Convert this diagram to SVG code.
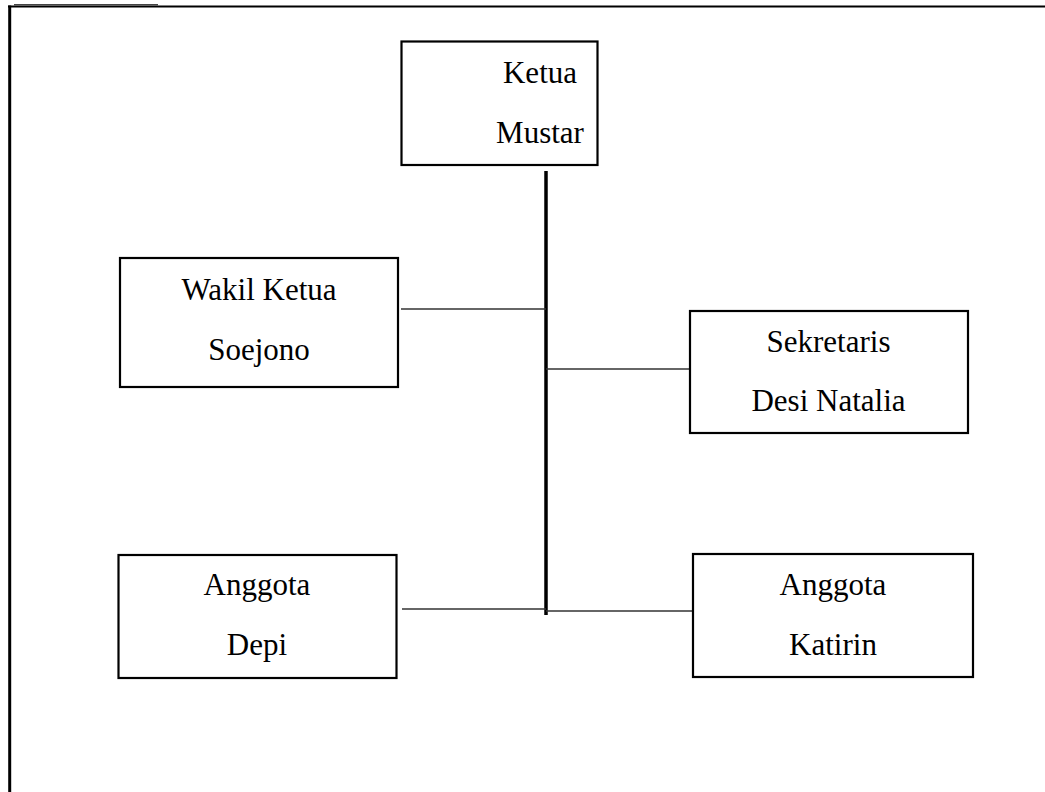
<svg xmlns="http://www.w3.org/2000/svg" width="1045" height="792" viewBox="0 0 1045 792">
<style>
.box{fill:#fff;stroke:#000;stroke-width:2.2}
.lbl{font-family:"Liberation Serif","Times New Roman",serif;font-size:31px;fill:#000;text-anchor:middle}
.con{stroke:#333;stroke-width:1.5;fill:none}
.trunk{stroke:#000;stroke-width:3.5;fill:none}
.frame{stroke:#000;fill:none}
</style>
<rect width="1045" height="792" fill="#fff"/>
<g id="frame">
<line class="frame" x1="8" y1="6.5" x2="1045" y2="6.5" stroke-width="2"/>
<line class="frame" x1="9.7" y1="5.5" x2="9.7" y2="792" stroke-width="3"/>
<line x1="14" y1="4.8" x2="158" y2="4.8" stroke="#444" stroke-width="1.5"/>
</g>
<g id="connectors">
<line class="trunk" x1="546" y1="171" x2="546" y2="615"/>
<line class="con" x1="401" y1="309" x2="546" y2="309"/>
<line class="con" x1="546" y1="369" x2="690" y2="369"/>
<line class="con" x1="402" y1="609" x2="546" y2="609"/>
<line class="con" x1="546" y1="611" x2="693" y2="611"/>
</g>
<g id="ketua">
<rect class="box" x="401.5" y="41.5" width="196" height="123.5"/>
<text class="lbl" x="540" y="83">Ketua</text>
<text class="lbl" x="540" y="143">Mustar</text>
</g>
<g id="wakil">
<rect class="box" x="120" y="258" width="278" height="129"/>
<text class="lbl" x="259" y="300">Wakil Ketua</text>
<text class="lbl" x="259" y="360">Soejono</text>
</g>
<g id="sekretaris">
<rect class="box" x="690" y="311" width="278" height="122"/>
<text class="lbl" x="828.5" y="352">Sekretaris</text>
<text class="lbl" x="828.5" y="411">Desi Natalia</text>
</g>
<g id="anggota-depi">
<rect class="box" x="118.5" y="555" width="278" height="123"/>
<text class="lbl" x="257" y="595">Anggota</text>
<text class="lbl" x="257" y="655">Depi</text>
</g>
<g id="anggota-katirin">
<rect class="box" x="693" y="554" width="280" height="123"/>
<text class="lbl" x="833" y="595">Anggota</text>
<text class="lbl" x="833" y="655">Katirin</text>
</g>
</svg>
